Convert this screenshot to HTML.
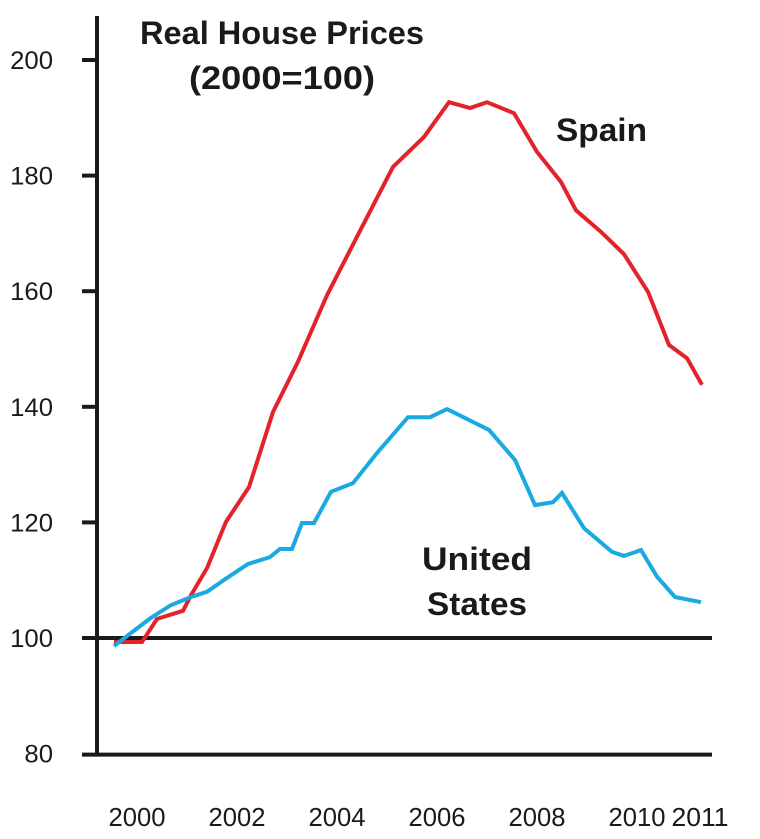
<!DOCTYPE html>
<html><head><meta charset="utf-8"><style>
html,body{margin:0;padding:0;background:#fff;}
svg{display:block;}
text{font-family:"Liberation Sans",sans-serif;fill:#1a1a1a;}
</style></head><body>
<svg id="chart" width="760" height="839" viewBox="0 0 760 839">
<g id="axes"></g>
<g id="series"></g>
<text x="282" y="44" text-anchor="middle" font-size="32" font-weight="bold" textLength="284" lengthAdjust="spacingAndGlyphs">Real House Prices</text>
<text x="282" y="89" text-anchor="middle" font-size="32" font-weight="bold" textLength="186" lengthAdjust="spacingAndGlyphs">(2000=100)</text>
<text x="556" y="141" font-size="32" font-weight="bold" textLength="91" lengthAdjust="spacingAndGlyphs">Spain</text>
<text x="477" y="570" text-anchor="middle" font-size="32" font-weight="bold" textLength="110" lengthAdjust="spacingAndGlyphs">United</text>
<text x="477" y="615" text-anchor="middle" font-size="32" font-weight="bold" textLength="100" lengthAdjust="spacingAndGlyphs">States</text>
</svg>
<script>
const yTicks = [80, 100, 120, 140, 160, 180, 200];
const xTickYears = [2000, 2002, 2004, 2006, 2008, 2010, 2011];
const xTickLabels = ["2000", "2002", "2004", "2006", "2008", "2010", "2011"];
const spainYears = [1999.54,2000.10,2000.40,2000.92,2001.08,2001.40,2001.78,2002.24,2002.72,2003.22,2003.80,2004.44,2005.12,2005.74,2006.24,2006.66,2007.00,2007.54,2008.00,2008.48,2008.78,2009.30,2009.74,2010.22,2010.64,2011.00,2011.30];
const spainValues = [99.3,99.3,103.3,104.7,107.4,112.1,120.1,126.1,139.1,147.8,159.3,170.1,181.5,186.7,192.7,191.7,192.7,190.8,184.1,178.9,174.0,170.1,166.4,159.9,150.7,148.4,143.8];
const usYears = [1999.54,1999.78,2000.28,2000.68,2001.08,2001.40,2001.80,2002.22,2002.66,2002.86,2003.10,2003.30,2003.54,2003.88,2004.32,2004.80,2005.42,2005.86,2006.20,2007.04,2007.56,2007.96,2008.32,2008.50,2008.94,2009.50,2009.74,2010.08,2010.40,2010.76,2011.28];
const usValues = [98.6,100.2,103.5,105.7,107.1,108.0,110.4,112.8,114.0,115.4,115.4,119.9,119.9,125.3,126.8,132.0,138.2,138.2,139.6,136.0,130.8,123.0,123.5,125.1,119.0,114.9,114.2,115.2,110.6,107.1,106.2];

const NS = "http://www.w3.org/2000/svg";
function xScale(yr){ return 137 + (yr - 2000) * 50; }
function yScale(v){ return 638 - (v - 100) * 5.78; }
function mk(tag, attrs, parent){
  const el = document.createElementNS(NS, tag);
  for (const k in attrs) el.setAttribute(k, attrs[k]);
  parent.appendChild(el);
  return el;
}
const axes = document.getElementById('axes');
const series = document.getElementById('series');

let ax = mk('line', {x1:97, y1:16, x2:97, y2:756, stroke:'#1a1a1a', 'stroke-width':4}, axes);


let bl = mk('line', {x1:82, y1:yScale(80)+1, x2:712, y2:yScale(80)+1, stroke:'#1a1a1a', 'stroke-width':4}, axes);


let hl = mk('line', {x1:82, y1:yScale(100), x2:712, y2:yScale(100), stroke:'#1a1a1a', 'stroke-width':4}, axes);



yTicks.forEach(v => {
  const y = yScale(v);
  if (v !== 80 && v !== 100) {
    const t = mk('line', {x1:82, y1:y, x2:97, y2:y, stroke:'#1a1a1a', 'stroke-width':4}, axes);
    
    
  }
  const txt = String(v);
  const lab = mk('text', {x:53, y:y+9, 'text-anchor':'end', 'font-size':25, textLength:txt.length * 14.3, lengthAdjust:'spacingAndGlyphs'}, axes);
  lab.textContent = txt;
  
  
});
xTickYears.forEach((yr, i) => {
  const dx = (i === xTickYears.length - 1) ? 13 : 0;
  const lab = mk('text', {x:xScale(yr)+dx, y:826, 'text-anchor':'middle', 'font-size':26, textLength:57, lengthAdjust:'spacingAndGlyphs'}, axes);
  lab.textContent = xTickLabels[i];
  
  
});

function drawLine(years, vals, color){
  return mk('polyline', {
    points: years.map((yr, i) => xScale(yr).toFixed(1) + ',' + yScale(vals[i]).toFixed(1)).join(' '),
    fill:'none', stroke:color, 'stroke-width':4, 'stroke-linejoin':'miter'
  }, series);
}
const sp = drawLine(spainYears, spainValues, '#e3222a');


const us = drawLine(usYears, usValues, '#1aa9e0');


</script>
</body></html>
